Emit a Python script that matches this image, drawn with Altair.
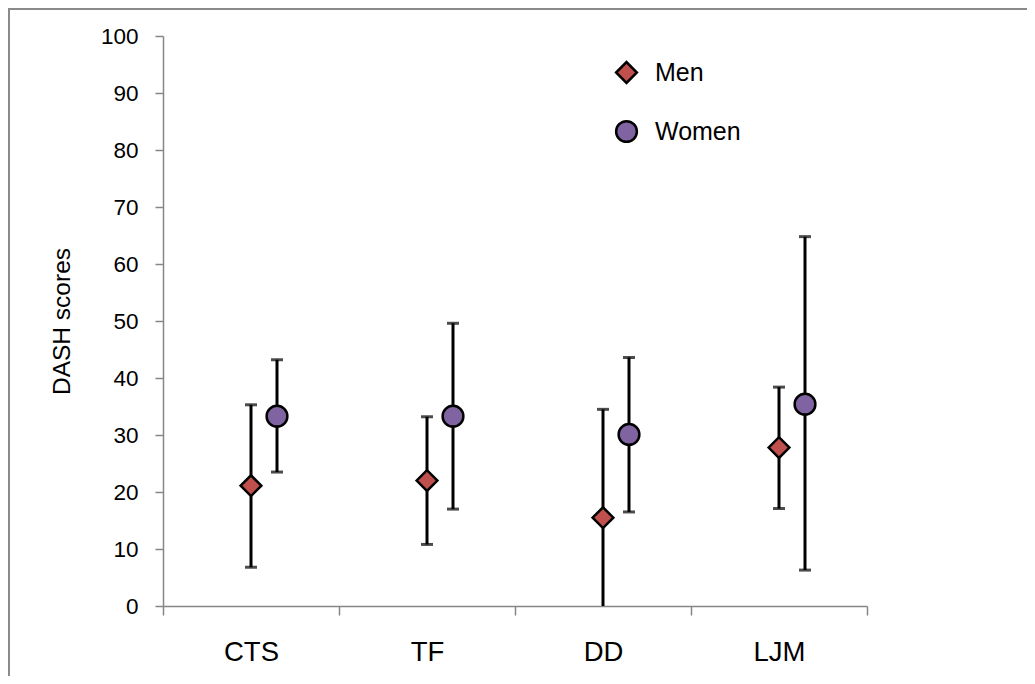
import altair as alt
import pandas as pd

categories = ["CTS", "TF", "DD", "LJM"]
groups = ["Men", "Women"]
men_mean = [21.1, 22.0, 15.5, 27.8]
men_low = [6.8, 10.8, -3.5, 17.1]
men_high = [35.3, 33.2, 34.5, 38.4]
women_mean = [33.3, 33.3, 30.1, 35.4]
women_low = [23.5, 17.0, 16.5, 6.3]
women_high = [43.2, 49.6, 43.6, 64.8]

rows = []
for i, c in enumerate(categories):
    rows.append({"cat": c, "sex": "Men", "mean": men_mean[i], "low": men_low[i], "high": men_high[i]})
    rows.append({"cat": c, "sex": "Women", "mean": women_mean[i], "low": women_low[i], "high": women_high[i]})
df = pd.DataFrame(rows)

FONT = "Liberation Sans"
GRAY = "#868686"

x_enc = alt.X(
    "cat:N",
    sort=categories,
    scale=alt.Scale(domain=categories, paddingInner=0, paddingOuter=0),
    axis=alt.Axis(
        title=None, tickBand="extent", domainColor=GRAY, tickColor=GRAY,
        tickSize=9, tickWidth=1.5, domainWidth=1.5, labelAngle=0,
        labelFont=FONT, labelFontSize=27.5, labelColor="black", labelPadding=23,
    ),
)
xoff = alt.XOffset("sex:N", scale=alt.Scale(domain=groups, range=[75, 127]))
y_scale = alt.Scale(domain=[0, 100], nice=False)
y_axis = alt.Axis(
    values=list(range(0, 101, 10)), grid=False, title="DASH scores",
    domainColor=GRAY, tickColor=GRAY, tickSize=8, tickWidth=1.5, domainWidth=1.5,
    labelFont=FONT, labelFontSize=22.5, labelColor="black", labelPadding=17,
    titleFont=FONT, titleFontSize=24.5, titleFontWeight="normal", titleColor="black",
    titleAngle=270, titleX=-101, titleY=285, titleAlign="center", titleBaseline="middle",
)

legend = alt.Legend(
    orient="none", legendX=451, legendY=24, direction="vertical", title=None,
    labelFont=FONT, labelFontSize=25, labelColor="black",
    symbolSize=430, symbolStrokeWidth=2.5, symbolStrokeColor="black",
    rowPadding=28, labelOffset=16, padding=0,
)

base = alt.Chart(df)

rules = base.mark_rule(color="black", strokeWidth=3, clip=True).encode(
    x=x_enc, xOffset=xoff,
    y=alt.Y("low:Q", scale=y_scale, axis=y_axis),
    y2="high:Q",
)
caps_hi = base.mark_tick(orient="horizontal", color="black", size=12, thickness=3, clip=True).encode(
    x=x_enc, xOffset=xoff, y=alt.Y("high:Q", scale=y_scale, axis=y_axis)
)
caps_lo = base.mark_tick(orient="horizontal", color="black", size=12, thickness=3, clip=True).encode(
    x=x_enc, xOffset=xoff, y=alt.Y("low:Q", scale=y_scale, axis=y_axis)
)
points = base.mark_point(filled=True, opacity=1, strokeWidth=2.5, size=430).encode(
    x=x_enc, xOffset=xoff,
    y=alt.Y("mean:Q", scale=y_scale, axis=y_axis),
    shape=alt.Shape("sex:N", scale=alt.Scale(domain=groups, range=["diamond", "circle"]), legend=legend),
    fill=alt.Fill("sex:N", scale=alt.Scale(domain=groups, range=["#C0504D", "#8064A2"]), legend=legend),
    stroke=alt.Stroke("sex:N", scale=alt.Scale(domain=groups, range=["black", "black"]), legend=legend),
)

frame_data = alt.Data(values=[{"a": 1}])
top_line = alt.Chart(frame_data).mark_rule(color="#8a8a8a", strokeWidth=2).encode(
    x=alt.value(-155), x2=alt.value(864), y=alt.value(-27)
)
left_line = alt.Chart(frame_data).mark_rule(color="#8a8a8a", strokeWidth=2).encode(
    x=alt.value(-154), y=alt.value(-28), y2=alt.value(640)
)

chart = alt.layer(top_line, left_line, rules, caps_hi, caps_lo, points).properties(
    width=704, height=570,
    background="white",
    autosize=alt.AutoSizeParams(type="none"),
    padding={"left": 155, "top": 28, "right": 160, "bottom": 70},
).configure_view(stroke=None)

chart.save("out.html", embed_options={"renderer": "svg", "actions": False})
